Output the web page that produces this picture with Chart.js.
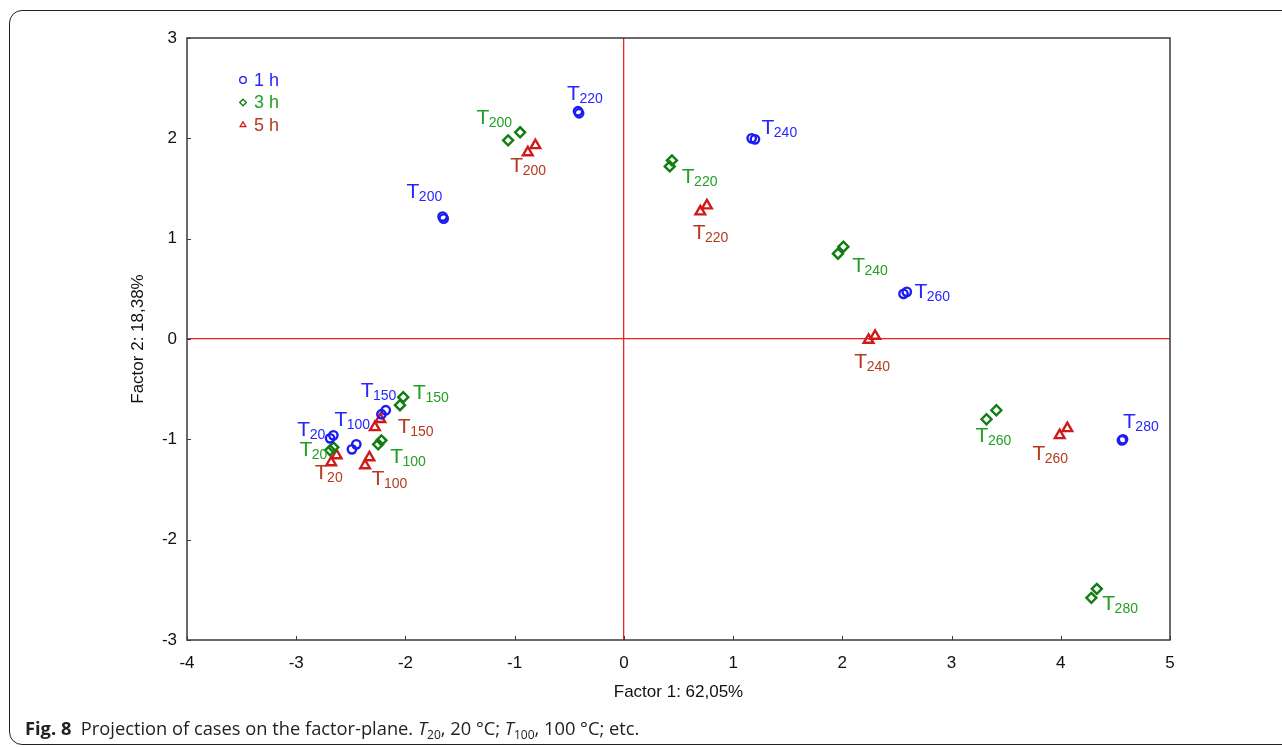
<!DOCTYPE html>
<html>
<head>
<meta charset="utf-8">
<script src="https://cdn.jsdelivr.net/npm/chart.js@4/dist/chart.umd.min.js"></script>
<style>
  html, body { margin: 0; padding: 0; background: #fff; width: 1282px; height: 747px; overflow: hidden; }
  #frame { position: absolute; left: 9px; top: 10px; width: 1320px; height: 735px; border: 1.3px solid #222; border-radius: 13px; box-sizing: border-box; }
  #plot { position: absolute; left: 0; top: 0; }
  #caption { position: absolute; left: 25px; top: 715px; font-family: "Open Sans", "Noto Sans", sans-serif; font-size: 18.3px; color: #222; white-space: nowrap; }
  #caption b { font-weight: bold; }
  #caption sub { font-size: 12px; vertical-align: -4px; line-height: 0; }
</style>
</head>
<body>
<div id="frame"></div>
<canvas id="plot" width="1282" height="747"></canvas>
<div id="caption"><b>Fig. 8</b>&nbsp;&nbsp;Projection of cases on the factor-plane. <i>T</i><sub>20</sub>, 20 °C; <i>T</i><sub>100</sub>, 100 °C; etc.</div>

<script>
// Temperatures (°C) of the cases; every case was measured twice
const temps1h = ['20', '20', '100', '100', '150', '150', '200', '200', '220', '220', '240', '240', '260', '260', '280', '280'];
const temps3h = ['20', '20', '100', '100', '150', '150', '200', '200', '220', '220', '240', '240', '260', '260', '280', '280'];
const temps5h = ['20', '20', '100', '100', '150', '150', '200', '200', '220', '220', '240', '240', '260', '260'];

// Factor scores, 1 h treatment
const f1_1h = [-2.69, -2.66, -2.49, -2.45, -2.22, -2.18, -1.66, -1.65, -0.42, -0.41, 1.17, 1.20, 2.56, 2.59, 4.56, 4.57];
const f2_1h = [-0.99, -0.96, -1.10, -1.05, -0.75, -0.71, 1.22, 1.20, 2.27, 2.25, 2.00, 1.99, 0.45, 0.47, -1.01, -1.00];

// Factor scores, 3 h treatment
const f1_3h = [-2.69, -2.66, -2.25, -2.22, -2.05, -2.02, -1.06, -0.95, 0.42, 0.44, 1.96, 2.01, 3.32, 3.41, 4.28, 4.33];
const f2_3h = [-1.11, -1.08, -1.05, -1.01, -0.66, -0.58, 1.98, 2.06, 1.72, 1.78, 0.85, 0.92, -0.80, -0.71, -2.58, -2.49];

// Factor scores, 5 h treatment
const f1_5h = [-2.68, -2.63, -2.37, -2.33, -2.28, -2.23, -0.88, -0.81, 0.70, 0.76, 2.24, 2.30, 3.99, 4.06];
const f2_5h = [-1.23, -1.16, -1.26, -1.18, -0.88, -0.80, 1.86, 1.93, 1.27, 1.33, -0.01, 0.03, -0.96, -0.89];

// Series names
const seriesNames = ['1 h', '3 h', '5 h'];

// Axis titles and ranges
const xTitle = 'Factor 1: 62,05%';
const yTitle = 'Factor 2: 18,38%';
const xRange = [-4, 5];
const yRange = [-3, 3];

// Where each temperature tag sits (factor-plane coordinates of the "T" left edge / mid-height)
const tagText1h = ['20', '100', '150', '200', '220', '240', '260', '280'];
const tagF1_1h  = [-2.99, -2.65, -2.41, -1.99, -0.52, 1.26, 2.66, 4.57];
const tagF2_1h  = [-0.89, -0.79, -0.50, 1.48, 2.46, 2.12, 0.48, -0.81];

const tagText3h = ['20', '100', '150', '200', '220', '240', '260', '280'];
const tagF1_3h  = [-2.97, -2.14, -1.93, -1.35, 0.53, 2.09, 3.22, 4.38];
const tagF2_3h  = [-1.09, -1.16, -0.52, 2.22, 1.63, 0.74, -0.95, -2.63];

const tagText5h = ['20', '100', '150', '200', '220', '240', '260'];
const tagF1_5h  = [-2.83, -2.31, -2.07, -1.04, 0.63, 2.11, 3.74];
const tagF2_5h  = [-1.32, -1.38, -0.86, 1.74, 1.07, -0.21, -1.13];

const FONT = '"Liberation Sans", Arial, Helvetica, sans-serif';

const styles = [
  { mark: '#1c1cf2', text: '#2626ff', shape: 'circle',  r: 4.2 },
  { mark: '#0f7d0f', text: '#23a023', shape: 'rectRot', r: 5.0 },
  { mark: '#d01a1a', text: '#b53a1e', shape: 'triangle', r: 5.6 }
];

function points(xs, ys) {
  return xs.map((v, i) => ({ x: v, y: ys[i] }));
}

const tagSets = [
  { text: tagText1h, xs: tagF1_1h, ys: tagF2_1h },
  { text: tagText3h, xs: tagF1_3h, ys: tagF2_3h },
  { text: tagText5h, xs: tagF1_5h, ys: tagF2_5h }
];

const datasets = [
  { label: seriesNames[0], data: points(f1_1h, f2_1h), temps: temps1h },
  { label: seriesNames[1], data: points(f1_3h, f2_3h), temps: temps3h },
  { label: seriesNames[2], data: points(f1_5h, f2_5h), temps: temps5h }
].map((d, i) => Object.assign(d, {
  pointStyle: styles[i].shape,
  pointRadius: styles[i].r,
  pointBorderWidth: 2.4,
  borderColor: styles[i].mark,
  backgroundColor: 'rgba(255,255,255,0)',
  pointHoverRadius: styles[i].r
}));

// Frame, inward tick marks, axis titles
const framePlugin = {
  id: 'frameDecor',
  afterDraw(chart) {
    const { ctx, chartArea: a, scales: { x, y } } = chart;
    ctx.save();
    ctx.strokeStyle = '#3a3a3a';
    ctx.lineWidth = 1.5;
    ctx.strokeRect(a.left, a.top, a.right - a.left, a.bottom - a.top);
    ctx.lineWidth = 1;
    ctx.beginPath();
    x.ticks.forEach(t => {
      const px = Math.round(x.getPixelForValue(t.value)) + 0.5;
      ctx.moveTo(px, a.bottom); ctx.lineTo(px, a.bottom - 4);
    });
    y.ticks.forEach(t => {
      const py = Math.round(y.getPixelForValue(t.value)) + 0.5;
      ctx.moveTo(a.left, py); ctx.lineTo(a.left + 4, py);
    });
    ctx.stroke();

    ctx.fillStyle = '#111';
    ctx.font = '17px ' + FONT;
    ctx.textAlign = 'center';
    ctx.textBaseline = 'middle';
    ctx.fillText(xTitle, (a.left + a.right) / 2, 692);
    ctx.translate(138, (a.top + a.bottom) / 2);
    ctx.rotate(-Math.PI / 2);
    ctx.fillText(yTitle, 0, 0);
    ctx.restore();
  }
};

// Temperature tags "T" with subscript
const tagPlugin = {
  id: 'tempTags',
  afterDatasetsDraw(chart) {
    const { ctx, scales: { x, y } } = chart;
    ctx.save();
    ctx.textAlign = 'left';
    ctx.textBaseline = 'alphabetic';
    tagSets.forEach((set, si) => {
      ctx.fillStyle = styles[si].text;
      set.text.forEach((sub, i) => {
        const px = x.getPixelForValue(set.xs[i]);
        const base = y.getPixelForValue(set.ys[i]) + 7.5;
        ctx.font = '21px ' + FONT;
        ctx.fillText('T', px, base);
        const w = ctx.measureText('T').width;
        ctx.font = '14px ' + FONT;
        ctx.fillText(sub, px + w - 0.5, base + 3);
      });
    });
    ctx.restore();
  }
};

// Legend in the upper-left corner of the plot
const legendPlugin = {
  id: 'cornerLegend',
  afterDraw(chart) {
    const { ctx } = chart;
    ctx.save();
    ctx.font = '18px ' + FONT;
    ctx.textAlign = 'left';
    ctx.textBaseline = 'middle';
    chart.data.datasets.forEach((ds, i) => {
      const cy = 80 + i * 22.5;
      ctx.strokeStyle = styles[i].mark;
      ctx.fillStyle = 'rgba(255,255,255,0)';
      ctx.lineWidth = 1.3;
      Chart.helpers.drawPoint(ctx, { pointStyle: styles[i].shape, radius: 3.3, rotation: 0, borderWidth: 1.3 }, 243, cy);
      ctx.fillStyle = styles[i].text;
      ctx.fillText(ds.label, 254, cy + 1);
    });
    ctx.restore();
  }
};

new Chart(document.getElementById('plot'), {
  type: 'scatter',
  data: { datasets },
  plugins: [framePlugin, tagPlugin, legendPlugin],
  options: {
    responsive: false,
    animation: false,
    devicePixelRatio: 1,
    layout: { padding: { left: 127, top: 38, right: 112, bottom: 57 } },
    plugins: { legend: { display: false }, tooltip: { enabled: false } },
    scales: {
      x: {
        type: 'linear', min: xRange[0], max: xRange[1],
        afterFit(s) { s.height = 50; },
        ticks: { stepSize: 1, padding: 13, color: '#111', font: { family: FONT, size: 17 } },
        grid: {
          drawTicks: false,
          color: c => (c.tick && c.tick.value === 0 ? '#ee2222' : 'rgba(0,0,0,0)'),
          lineWidth: 1.3
        },
        border: { display: false }
      },
      y: {
        type: 'linear', min: yRange[0], max: yRange[1],
        afterFit(s) { s.width = 60; },
        ticks: { stepSize: 1, padding: 10, color: '#111', font: { family: FONT, size: 17 } },
        grid: {
          drawTicks: false,
          color: c => (c.tick && c.tick.value === 0 ? '#ee2222' : 'rgba(0,0,0,0)'),
          lineWidth: 1.3
        },
        border: { display: false }
      }
    }
  }
});
</script>
</body>
</html>
